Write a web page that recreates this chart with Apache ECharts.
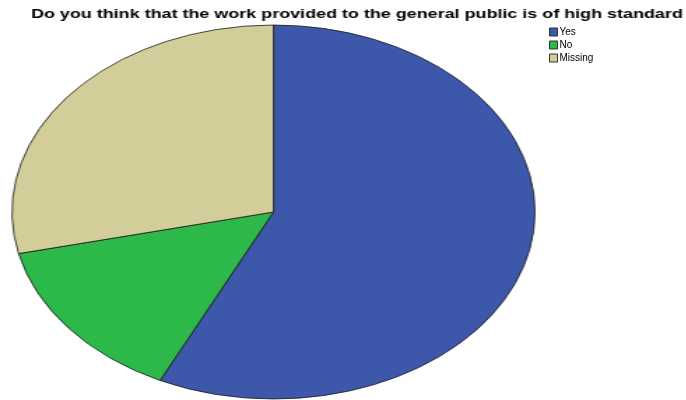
<!DOCTYPE html>
<html>
<head>
<meta charset="utf-8">
<script src="https://cdn.jsdelivr.net/npm/echarts@6/dist/echarts.min.js"></script>
<style>
html,body{margin:0;padding:0;background:#fff;overflow:hidden;}
#wrap{position:relative;width:686px;height:400px;overflow:hidden;}
#pie{position:absolute;left:0;top:0;height:400px;transform-origin:0 0;}
#main{position:absolute;left:0;top:0;width:686px;height:400px;}
</style>
</head>
<body>
<div id="wrap"><div id="pie"></div><div id="main"></div></div>
<script>
const titleText = 'Do you think that the work provided to the general public is of high standard';
const categories = ['Yes', 'No', 'Missing'];
const values = [40, 10, 20];
const colors = ['#3d58ab', '#2db84a', '#d3ce99'];

// Elliptical pie (and horizontally stretched title): circular pie stretched horizontally
const rx = 261.5, ry = 187, cx = 273.5, cy = 212;
const s = rx / ry;
const pieDiv = document.getElementById('pie');
pieDiv.style.width = (700 / s) + 'px';
pieDiv.style.transform = 'scaleX(' + s + ')';

const dataItems = categories.map((c, i) => ({name: c, value: values[i], itemStyle: {color: colors[i]}}));

const pieChart = echarts.init(pieDiv, null, {renderer: 'canvas'});
pieChart.setOption({
  animation: false,
  title: {
    text: titleText,
    left: 31 / s,
    top: 8,
    padding: 0,
    textStyle: {fontFamily: 'Liberation Sans, Arial, sans-serif', fontSize: 12.84, fontWeight: 'bold', color: '#000'}
  },
  series: [{
    type: 'pie',
    center: [cx / s, cy],
    radius: ry,
    startAngle: 90,
    clockwise: true,
    label: {show: false},
    labelLine: {show: false},
    emphasis: {disabled: true},
    itemStyle: {borderColor: '#1a1a1a', borderWidth: 0.8},
    data: dataItems
  }]
});

const mainChart = echarts.init(document.getElementById('main'), null, {renderer: 'canvas'});
mainChart.setOption({
  animation: false,
  backgroundColor: 'transparent',
  legend: {
    orient: 'vertical',
    left: 549,
    top: 27,
    padding: 0,
    itemWidth: 8,
    itemHeight: 8,
    itemGap: 3,
    icon: 'rect',
    selectedMode: false,
    itemStyle: {borderColor: '#333', borderWidth: 1, opacity: 1},
    textStyle: {fontFamily: 'Liberation Sans, Arial, sans-serif', fontSize: 10, color: '#000', padding: [0, 0, 0, -3]},
    data: categories
  },
  series: [{
    type: 'pie',
    radius: [0, 0],
    center: [-50, -50],
    silent: true,
    label: {show: false},
    labelLine: {show: false},
    itemStyle: {borderWidth: 0},
    data: dataItems
  }]
});
</script>
</body>
</html>
